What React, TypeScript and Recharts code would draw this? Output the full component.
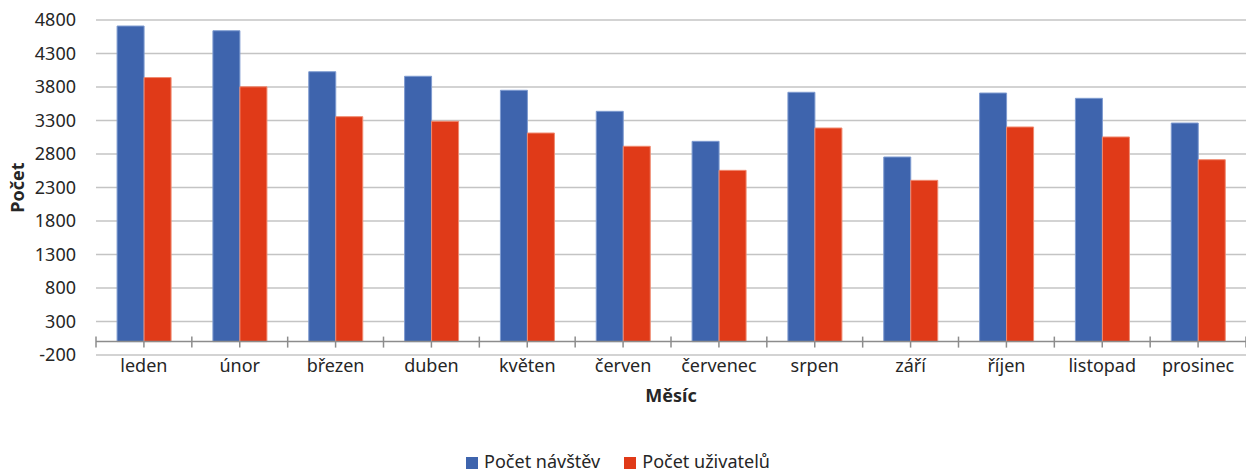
import React from 'react';
import { BarChart, Bar, XAxis, YAxis, CartesianGrid, Legend, ReferenceLine } from 'recharts';

const months = ['leden', 'únor', 'březen', 'duben', 'květen', 'červen', 'červenec', 'srpen', 'září', 'říjen', 'listopad', 'prosinec'];
const visits = [4710, 4640, 4028, 3960, 3751, 3437, 2989, 3721, 2755, 3710, 3631, 3262];
const users = [3941, 3803, 3357, 3288, 3113, 2915, 2556, 3188, 2407, 3203, 3054, 2715];
const yTicks = [-200, 300, 800, 1300, 1800, 2300, 2800, 3300, 3800, 4300, 4800];

const data = months.map((m, i) => ({ month: m, visits: visits[i], users: users[i] }));

const font = '"Noto Sans", sans-serif';
const textColor = '#262626';

// axis line at zero with Excel-like tick marks
const ZeroAxis = (props: any) => {
  const { x1, x2, y1 } = props;
  const n = months.length;
  const step = (x2 - x1) / n;
  const marks = [];
  for (let i = 0; i <= n * 2; i++) {
    const x = x1 + (step / 2) * i;
    const major = i % 2 === 0;
    marks.push(
      <line key={i} x1={x} x2={x} y1={major ? y1 - 5 : y1} y2={y1 + 6} stroke="#8c8c8c" strokeWidth={1.5} />
    );
  }
  return (
    <g>
      <line x1={x1} x2={x2} y1={y1} y2={y1} stroke="#8c8c8c" strokeWidth={1.5} />
      {marks}
    </g>
  );
};

export default function App() {
  return (
    <div style={{ position: 'absolute', left: 0, top: 0, fontFamily: font }}>
      <BarChart
        width={1246}
        height={471}
        data={data}
        margin={{ top: 20, right: 0, bottom: 0, left: 0 }}
        barCategoryGap="22%"
        barGap={0}
      >
        <CartesianGrid vertical={false} stroke="#c4c4c4" strokeWidth={1.4} />
        <XAxis
          dataKey="month"
          axisLine={false}
          tickLine={false}
          tickSize={0}
          tickMargin={4}
          height={92}
          tick={{ fontSize: 18, fill: textColor, fontFamily: font }}
          label={{ value: 'Měsíc', position: 'insideTop', offset: 34, fontSize: 18, fontWeight: 'bold', fill: textColor, fontFamily: font }}
        />
        <YAxis
          domain={[-200, 4800]}
          ticks={yTicks}
          axisLine={false}
          tickLine={false}
          tickSize={0}
          tickMargin={20}
          width={96}
          interval={0}
          tick={{ fontSize: 18, fill: textColor, fontFamily: font }}
          label={{ value: 'Počet', angle: -90, position: 'insideLeft', offset: 18, fontSize: 18, fontWeight: 'bold', fill: textColor, fontFamily: font, style: { textAnchor: 'middle' } }}
        />
        <Legend
          verticalAlign="bottom"
          iconType="square"
          iconSize={12}
          wrapperStyle={{ fontSize: 18, fontFamily: font, bottom: -2 }}
          formatter={(value: string, _entry: any, index: number) => (
            <span style={{ color: textColor, marginLeft: 2, marginRight: index === 0 ? 14 : 0 }}>{value}</span>
          )}
        />
        <Bar dataKey="visits" name="Počet návštěv" fill="#3e64ad" stroke="#7f9bd0" strokeWidth={1} isAnimationActive={false} />
        <Bar dataKey="users" name="Počet uživatelů" fill="#e03a18" stroke="#f08a70" strokeWidth={1} isAnimationActive={false} />
        <ReferenceLine y={0} shape={ZeroAxis} />
      </BarChart>
    </div>
  );
}
